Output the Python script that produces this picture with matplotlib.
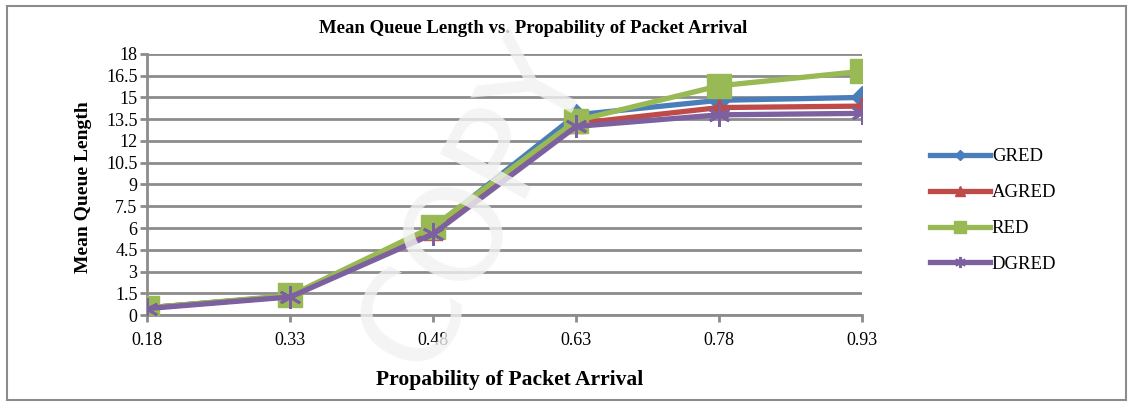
import matplotlib.pyplot as plt

# データ
x_labels = ["0.18", "0.33", "0.48", "0.63", "0.78", "0.93"]
gred = [0.5, 1.3, 6.0, 13.8, 14.8, 15.0]
agred = [0.5, 1.3, 5.8, 13.2, 14.3, 14.4]
red = [0.5, 1.35, 6.1, 13.4, 15.8, 16.8]
dgred = [0.45, 1.25, 5.6, 13.0, 13.8, 13.9]
y_ticks = [0, 1.5, 3, 4.5, 6, 7.5, 9, 10.5, 12, 13.5, 15, 16.5, 18]
y_tick_labels = ["0", "1.5", "3", "4.5", "6", "7.5", "9", "10.5", "12", "13.5", "15", "16.5", "18"]

plt.rcParams['font.family'] = ['Liberation Serif', 'DejaVu Serif']

fig = plt.figure(figsize=(11.33, 4.05), dpi=100)
ax = fig.add_axes([0.130, 0.222, 0.631, 0.645])

# 外枠
fig.patches.append(plt.Rectangle((0.006, 0.012), 0.988, 0.972, transform=fig.transFigure,
                                 fill=False, edgecolor='#8c8c8c', linewidth=1.5))

# 透かし
fig.text(0.42, 0.50, "COPY", fontsize=95, color='#f2f2f2', alpha=0.8, rotation=62,
         ha='center', va='center', family='DejaVu Sans', zorder=10)

x = list(range(len(x_labels)))
ax.plot(x, gred, color='#4a7ebb', lw=3.8, marker='D', ms=11, label='GRED', zorder=3)
ax.plot(x, agred, color='#be4b48', lw=3.8, marker='^', ms=13, label='AGRED', zorder=4)
ax.plot(x, red, color='#98b954', lw=3.8, marker='s', ms=17, label='RED', zorder=5)
ax.plot(x, dgred, color='#7d60a0', lw=3.8, marker=(6, 2, 0), ms=16, mew=2, label='DGRED', zorder=6)

ax.set_xlim(0, len(x_labels) - 1)
ax.set_ylim(0, 18)
ax.set_xticks(x)
ax.set_xticklabels(x_labels, fontsize=13)
ax.set_yticks(y_ticks)
ax.set_yticklabels(y_tick_labels, fontsize=13)
ax.yaxis.grid(True, color='#8c8c8c', linewidth=2)
ax.set_axisbelow(True)
ax.patch.set_alpha(0)

for s in ['top', 'right']:
    ax.spines[s].set_visible(False)
for s in ['left', 'bottom']:
    ax.spines[s].set_color('#8c8c8c')
    ax.spines[s].set_linewidth(2)
ax.tick_params(axis='both', direction='out', color='#8c8c8c', width=2, length=5, pad=7)
ax.tick_params(axis='y', pad=2)

ax.set_ylabel("Mean Queue Length", fontsize=14, fontweight='bold')
ax.yaxis.set_label_coords(-0.078, 0.49)
fig.text(0.450, 0.062, "Propability of Packet Arrival", fontsize=15.5, fontweight='bold',
         ha='center', va='center')
fig.text(0.471, 0.930, "Mean Queue Length vs. Propability of Packet Arrival", fontsize=13.5,
         fontweight='bold', ha='center', va='center')

fig.legend(loc='center left', bbox_to_anchor=(0.806, 0.48), frameon=False, fontsize=13.5,
           markerscale=0.5, handlelength=3.2, handletextpad=0.1, labelspacing=1.0)

plt.savefig("out.png", dpi=100)
